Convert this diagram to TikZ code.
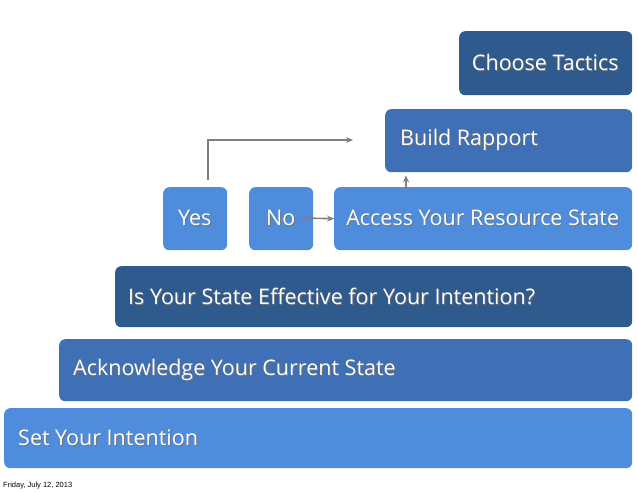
\documentclass[tikz,border=0pt]{standalone}
\usepackage{fontspec}
\setmainfont{Open Sans}
\newfontfamily\datefont{Liberation Sans}
\usetikzlibrary{positioning,arrows.meta}
\definecolor{light}{HTML}{4F8DDC}
\definecolor{mid}{HTML}{3F70B5}
\definecolor{dark}{HTML}{2E5A8E}
\definecolor{conn}{HTML}{7F7F7F}
\newcommand{\shtext}[1]{\tikz[baseline=(t.base)]{\node[inner sep=0pt,text=black!55] at (0.9pt,-0.9pt) {#1};\node[inner sep=0pt] (t) at (0,0) {#1};}}
\tikzset{
  stepbox/.style = {fill=#1, rounded corners=6pt, anchor=north west, minimum height=62pt, inner sep=0pt},
  steptext/.style = {text=white, font=\fontsize{21.5}{24}\selectfont, anchor=west, inner sep=0pt},
  link/.style = {draw=conn, line width=1.6pt, -{Stealth[length=7pt,width=6pt]}}
}
\begin{document}
\begin{tikzpicture}[x=1pt, y=-1pt]
  \useasboundingbox (0,0) rectangle (638,491);
  \node[stepbox=light, minimum width=628pt, minimum height=60pt] (intent) at (4,408) {};
  \node[steptext] (intentt) at ([xshift=14pt]intent.west) {\shtext{Set Your Intention}};
  \node[stepbox=mid, minimum width=573pt] (ack) at (59,339) {};
  \node[steptext] (ackt) at ([xshift=14pt]ack.west) {\shtext{Acknowledge Your Current State}};
  \node[stepbox=dark, minimum width=517pt, minimum height=61pt] (eff) at (115,266) {};
  \node[steptext] (efft) at ([xshift=13pt]eff.west) {\shtext{Is Your State Effective for Your Intention?}};
  \node[stepbox=light, minimum width=64pt, minimum height=63pt] (yes) at (163,187) {};
  \node[steptext, anchor=center] (yest) at (yes.center) {\shtext{Yes}};
  \node[stepbox=light, minimum width=64pt, minimum height=63pt] (no) at (249,187) {};
  \node[steptext, anchor=center] (not) at (no.center) {\shtext{No}};
  \node[stepbox=light, minimum width=298pt, minimum height=63pt] (access) at (334,187) {};
  \node[steptext, anchor=center] (accesst) at (access.center) {\shtext{Access Your Resource State}};
  \node[stepbox=mid, minimum width=247pt, minimum height=63pt] (rapport) at (385,109) {};
  \node[steptext] (rapportt) at ([xshift=15pt]rapport.west) {\shtext{Build Rapport}};
  \node[stepbox=dark, minimum width=173pt, minimum height=64pt] (tactics) at (459,31) {};
  \node[steptext, anchor=center] (tacticst) at (tactics.center) {\shtext{Choose Tactics}};
  \node[anchor=south west, inner sep=0pt, font=\datefont\fontsize{7.5}{8}\selectfont] (date) at (3,489) {Friday, July 12, 2013};
  \coordinate (yesup) at (208,180);
  \coordinate (target) at (353,140);
  \coordinate (nostart) at (302,218);
  \draw[link] (yesup) |- (target);
  \draw[link] (nostart) -- (access.west);
  \draw[link] ([xshift=72pt,yshift=-2pt]access.north west) -- ([xshift=21pt,yshift=-3pt]rapport.south west);
\end{tikzpicture}
\end{document}
